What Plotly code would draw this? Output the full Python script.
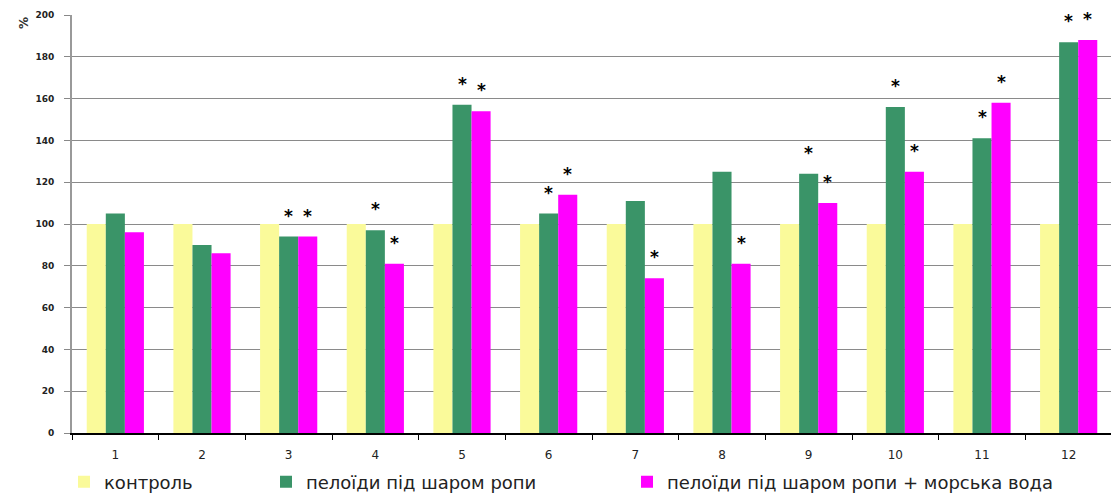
import plotly.graph_objects as go

# Group labels along the x axis
groups = ["1", "2", "3", "4", "5", "6", "7", "8", "9", "10", "11", "12"]

# Series values, % of control
control = [100, 100, 100, 100, 100, 100, 100, 100, 100, 100, 100, 100]
peloids_brine = [105, 90, 94, 97, 157, 105, 111, 125, 124, 156, 141, 187]
peloids_brine_sea = [96, 86, 94, 81, 154, 114, 74, 81, 110, 125, 158, 188]

# Significance marks (1 = marked with an asterisk)
sig_brine = [0, 0, 1, 1, 1, 1, 0, 0, 1, 1, 1, 1]
sig_brine_sea = [0, 0, 1, 1, 1, 1, 1, 1, 1, 1, 1, 1]

series_names = [
    "контроль",
    "пелоїди під шаром ропи",
    "пелоїди під шаром ропи + морська вода",
]
colors = ["#FAFA9A", "#3A9468", "#FF00FF"]

BARGAP = 0.34
bar_w = (1 - BARGAP) / 3

fig = go.Figure()
legends = ["legend", "legend2", "legend3"]
for name, vals, col, lg in zip(series_names,
                               [control, peloids_brine, peloids_brine_sea],
                               colors, legends):
    fig.add_trace(go.Bar(
        x=groups, y=vals, name=name, marker=dict(color=col, line=dict(width=0)),
        legend=lg,
    ))

W, H = 1111, 495
ML, MT, MB = 72, 15, 62
plot_w = W - ML
plot_h = H - MT - MB


def px_x(px):
    return (px - ML) / plot_w


def px_y(py):
    return (H - MB - py) / plot_h


# Asterisks above the significant bars
annotations = []
for offset, vals, flags in [(0.0, peloids_brine, sig_brine),
                            (bar_w, peloids_brine_sea, sig_brine_sea)]:
    for i, (v, f) in enumerate(zip(vals, flags)):
        if f:
            annotations.append(dict(
                x=i + offset, y=v, xref="x", yref="y", text="*",
                showarrow=False, yanchor="middle", yshift=21,
                font=dict(family="DejaVu Sans", size=17, color="black", weight="bold"),
            ))

# Unit label at the top of the value axis
annotations.append(dict(
    x=px_x(15), y=px_y(15), xref="paper", yref="paper", text="%",
    showarrow=False, textangle=-90,
    font=dict(family="DejaVu Sans", size=12, color="#333", weight="bold"),
))

legend_font = dict(family="DejaVu Sans", size=18, color="#222")
leg_common = dict(orientation="h", bgcolor="rgba(0,0,0,0)", borderwidth=0,
                  font=legend_font, xanchor="left", yanchor="middle",
                  y=px_y(482))

cat_w = 1040 / 12
fig.update_layout(
    width=W, height=H,
    margin=dict(l=ML, r=0, t=MT, b=MB, pad=0, autoexpand=False),
    paper_bgcolor="white", plot_bgcolor="white",
    barmode="group", bargap=BARGAP, bargroupgap=0,
    annotations=annotations,
    legend=dict(x=px_x(64), **leg_common),
    legend2=dict(x=px_x(266), **leg_common),
    legend3=dict(x=px_x(627), **leg_common),
    xaxis=dict(
        type="category", range=[-0.5, -0.5 + plot_w / cat_w],
        showgrid=False, showline=True, linecolor="black", linewidth=2,
        ticks="outside", tickson="boundaries", ticklen=5, tickcolor="black",
        tickwidth=1, ticklabelstandoff=10,
        tickfont=dict(family="DejaVu Sans", size=12, color="#222"),
        zeroline=False,
    ),
    yaxis=dict(
        range=[0, 200], tickvals=list(range(0, 201, 20)),
        showgrid=True, gridcolor="#8a8a8a", gridwidth=1,
        showline=True, linecolor="#999999", linewidth=2,
        ticks="outside", ticklen=6, tickcolor="#888", tickwidth=1,
        ticklabelstandoff=8,
        tickfont=dict(family="DejaVu Sans", size=9, color="#222", weight="bold"),
        zeroline=False,
    ),
    showlegend=True,
)

fig.write_html("out.html")
